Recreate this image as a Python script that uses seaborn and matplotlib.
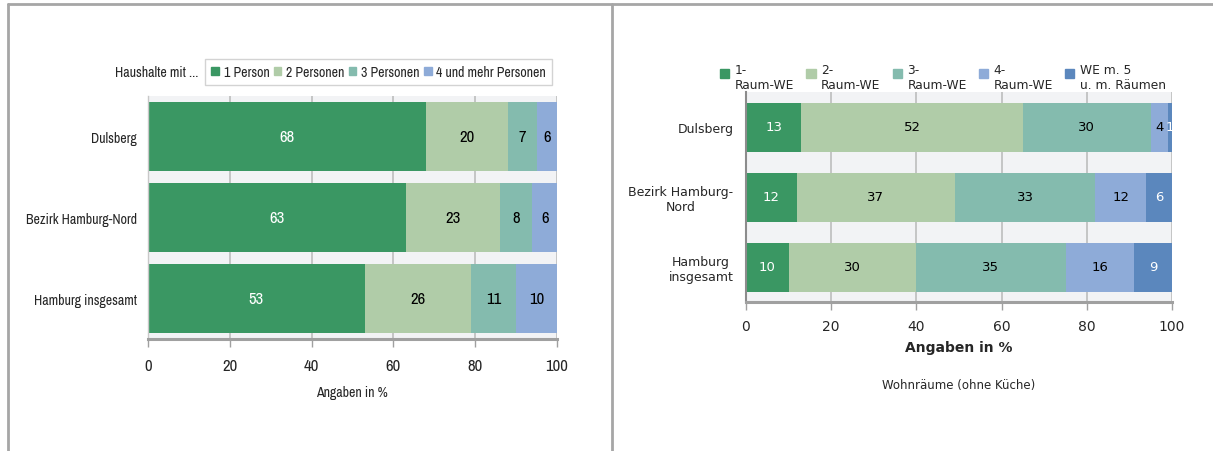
import numpy as np
import pandas as pd
import matplotlib
matplotlib.use("Agg")
import matplotlib.pyplot as plt
import seaborn as sns
from matplotlib.lines import Line2D
from matplotlib.patches import Patch, Rectangle
from matplotlib.legend_handler import HandlerPatch

# Households by size
hh_areas = ["Dulsberg", "Bezirk Hamburg-Nord", "Hamburg insgesamt"]
hh_groups = ["1 Person", "2 Personen", "3 Personen", "4 und mehr Personen"]
hh_1 = [68, 63, 53]
hh_2 = [20, 23, 26]
hh_3 = [7, 8, 11]
hh_4 = [6, 6, 10]

# Dwellings by number of living rooms
we_areas = ["Dulsberg", "Bezirk Hamburg-\nNord", "Hamburg\ninsgesamt"]
we_groups = ["1-\nRaum-WE", "2-\nRaum-WE", "3-\nRaum-WE", "4-\nRaum-WE",
             "WE m. 5\nu. m. Räumen"]
we_1 = [13, 12, 10]
we_2 = [52, 37, 30]
we_3 = [30, 33, 35]
we_4 = [4, 12, 16]
we_5 = [1, 6, 9]

x_ticks = [0, 20, 40, 60, 80, 100]

COLORS = ["#3a9763", "#b0cca8", "#84bbae", "#8eabd8", "#5b87bd"]
LABEL_COLORS = ["white", "black", "black", "black", "white"]
NARROW = ["Archivo Narrow", "Liberation Sans", "DejaVu Sans"]
WIDE = ["DejaVu Sans"]

sns.set_theme(style="white")
plt.rcParams["font.family"] = WIDE

W, H = 1213, 452
fig = plt.figure(figsize=(W / 100, H / 100), dpi=100)


def px_axes(x0, x1, y0, y1):
    return fig.add_axes([x0 / W, 1 - y1 / H, (x1 - x0) / W, (y1 - y0) / H])


def stacked(ax, areas, series, bar_h, fsize, family):
    vals = np.array(series, dtype=float)
    cum = vals.cumsum(axis=0)
    # draw cumulative totals from the outermost layer inwards
    for i in range(len(series) - 1, -1, -1):
        df = pd.DataFrame({"area": areas, "value": cum[i]})
        sns.barplot(data=df, y="area", x="value", orient="h", color=COLORS[i],
                    saturation=1, width=bar_h, linewidth=0, ax=ax, zorder=2)
    for i in range(len(series)):
        for j in range(len(areas)):
            start = cum[i, j] - vals[i, j]
            end = min(cum[i, j], 100)
            ax.text((start + end) / 2, j, f"{int(vals[i, j])}",
                    ha="center", va="center", color=LABEL_COLORS[i],
                    fontsize=fsize, family=family, zorder=3)
    ax.set_xlim(0, 100)
    ax.set_ylim(len(areas) - 0.5, -0.5)
    ax.set_facecolor("#f2f3f5")
    ax.set_xticks(x_ticks)
    ax.set_xlabel("")
    ax.set_ylabel("")
    ax.grid(axis="x", color="#bdbdbd", linewidth=1.2, zorder=0)
    ax.set_axisbelow(True)
    for s in ("top", "right"):
        ax.spines[s].set_visible(False)
    ax.spines["bottom"].set_color("#a0a0a0")
    ax.spines["bottom"].set_linewidth(2.2)


# ---------- left panel: household sizes ----------
LFS = 10
axL = px_axes(148, 557, 97, 340)
stacked(axL, hh_areas, [hh_1, hh_2, hh_3, hh_4], 0.84, 12, NARROW)
axL.spines["left"].set_color("#c8c8c8")
axL.spines["left"].set_linewidth(1)
axL.tick_params(axis="x", length=6, width=1, color="#a0a0a0", pad=8,
                labelsize=12, bottom=True)
axL.tick_params(axis="y", length=0, pad=8, labelsize=LFS)
for t in axL.get_xticklabels() + axL.get_yticklabels():
    t.set_family(NARROW)
fig.text(352 / W, 1 - 393 / H, "Angaben in %", ha="center", va="center",
         fontsize=LFS, family=NARROW)
fig.text(198 / W, 1 - 73 / H, "Haushalte mit ...", ha="right", va="center",
         fontsize=LFS, family=NARROW)
hL = [Patch(color=c) for c in COLORS[:4]]
legL = fig.legend(hL, hh_groups, loc="center left", ncol=4,
                  bbox_to_anchor=(205 / W, 1 - 73 / H), frameon=True,
                  fancybox=False, edgecolor="#c8c8c8", handlelength=0.55,
                  handleheight=0.55, handletextpad=0.35, columnspacing=0.3,
                  borderpad=0.45, borderaxespad=0,
                  prop={"family": NARROW, "size": LFS})
legL.get_frame().set_linewidth(1)

# ---------- right panel: dwellings by rooms ----------
axR = px_axes(746, 1172, 93, 303)
stacked(axR, we_areas, [we_1, we_2, we_3, we_4, we_5], 9.5 and 0.70, 9.5, WIDE)
axR.spines["left"].set_color("#8c8c8c")
axR.spines["left"].set_linewidth(1.5)
axR.tick_params(axis="x", length=6, width=1, color="#a0a0a0", pad=6,
                labelsize=10, bottom=True)
axR.tick_params(axis="y", length=0, pad=9, labelsize=9)
for t in axR.get_yticklabels():
    t.set_multialignment("center")
fig.text(959 / W, 1 - 348 / H, "Angaben in %", ha="center", va="center",
         fontsize=10, fontweight="bold")
fig.text(959 / W, 1 - 385 / H, "Wohnräume (ohne Küche)", ha="center",
         va="center", fontsize=8.5)


def top_square(legend, orig_handle, xdescent, ydescent, width, height, fontsize):
    s = 0.75 * fontsize
    return Rectangle((-xdescent, -ydescent + height - s), s, s)


hR = [Patch(color=c) for c in COLORS]
legR = fig.legend(hR, we_groups, loc="center", ncol=5,
                  bbox_to_anchor=(943 / W, 1 - 78 / H), frameon=False,
                  handlelength=0.8, handleheight=2.0, handletextpad=0.4,
                  columnspacing=1.0, prop={"size": 8.8},
                  handler_map={Patch: HandlerPatch(patch_func=top_square)})

# ---------- outer frame lines ----------
frame_kw = dict(color="#a6a6a6", linewidth=2, transform=fig.transFigure)
fig.add_artist(Line2D([8 / W, 1], [1 - 5 / H, 1 - 5 / H], **frame_kw))
fig.add_artist(Line2D([8 / W, 8 / W], [0, 1 - 5 / H], **frame_kw))
fig.add_artist(Line2D([612 / W, 612 / W], [0, 1 - 5 / H], **frame_kw))

fig.savefig("out.png", dpi=100)
